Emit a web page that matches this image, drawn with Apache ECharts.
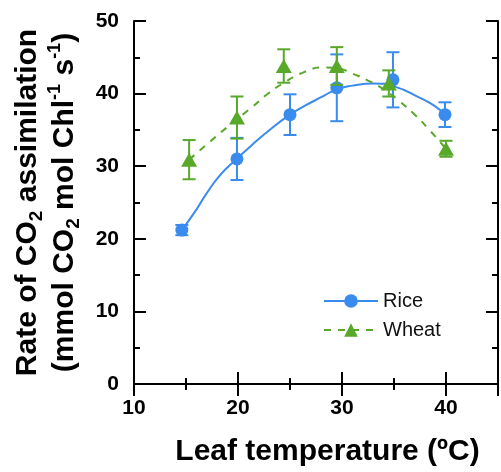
<!DOCTYPE html>
<html>
<head>
<meta charset="utf-8">
<script src="https://cdn.jsdelivr.net/npm/echarts@6/dist/echarts.min.js"></script>
<style>
html,body{margin:0;padding:0;background:#fff;}
#chart{width:501px;height:472px;}
</style>
</head>
<body>
<div id="chart"></div>
<script>
// ---- data ----
var xTicks = [10, 20, 30, 40];
var yTicks = [0, 10, 20, 30, 40, 50];

var riceX   = [14.6, 19.9, 25.0, 29.5, 34.9, 39.9];
var riceY   = [21.2, 31.0, 37.1, 40.8, 41.9, 37.1];
var riceErr = [0.7, 2.9, 2.8, 4.6, 3.8, 1.7];

var wheatX   = [15.3, 19.9, 24.4, 29.5, 34.5, 40.0];
var wheatY   = [30.9, 36.7, 43.8, 43.8, 41.4, 32.4];
var wheatErr = [2.7, 2.9, 2.3, 2.6, 1.8, 1.1];

// fitted curves
var riceFitX = [14.6, 15.8, 17.0, 18.3, 19.8, 21.4, 23.3, 24.9, 26.4, 28.0, 29.5, 31.0, 33.0, 35.0, 37.5, 38.9, 39.9];
var riceFitY = [21.2, 23.6, 26.3, 28.8, 30.9, 33.0, 35.3, 37.0, 38.3, 39.5, 40.6, 41.1, 41.4, 41.0, 39.4, 38.3, 37.1];

var wheatFitX = [15.3, 17.0, 18.9, 21.4, 22.8, 24.2, 26.4, 28.2, 29.5, 31.1, 32.5, 34.0, 35.4, 37.0, 38.4, 40.0];
var wheatFitY = [30.9, 33.0, 35.3, 38.2, 39.9, 41.3, 43.0, 43.6, 43.5, 42.7, 41.8, 40.6, 39.1, 37.1, 35.0, 32.4];

var RICE = '#3a8bee';
var WHEAT = '#58a82a';
var FONT = '"Liberation Sans", Arial, sans-serif';

function zip(a, b) { return a.map(function (v, i) { return [v, b[i]]; }); }
function errData(x, y, e) { return x.map(function (v, i) { return [v, y[i] - e[i], y[i] + e[i]]; }); }

function errRender(color) {
  return function (params, api) {
    var x = api.value(0);
    var lo = api.coord([x, api.value(1)]);
    var hi = api.coord([x, api.value(2)]);
    var hw = 6.5;
    var st = { stroke: color, lineWidth: 2 };
    return {
      type: 'group',
      children: [
        { type: 'line', shape: { x1: lo[0], y1: lo[1], x2: hi[0], y2: hi[1] }, style: st },
        { type: 'line', shape: { x1: lo[0] - hw, y1: lo[1], x2: lo[0] + hw, y2: lo[1] }, style: st },
        { type: 'line', shape: { x1: hi[0] - hw, y1: hi[1], x2: hi[0] + hw, y2: hi[1] }, style: st }
      ]
    };
  };
}

var chart = echarts.init(document.getElementById('chart'), null, { renderer: 'canvas' });

var axisLine = { show: true, lineStyle: { color: '#000', width: 2 } };
var tickStyle = { show: true, inside: true, length: 12, lineStyle: { color: '#000', width: 2 } };
var minorStyle = { show: true, splitNumber: 2, length: 6, lineStyle: { color: '#000', width: 2 } };

var option = {
  animation: false,
  backgroundColor: '#fff',
  grid: { left: 134, right: -4, top: 21, bottom: 80, containLabel: false },
  legend: {
    orient: 'vertical',
    left: 318,
    top: 286,
    itemWidth: 54,
    itemHeight: 17,
    itemGap: 9,
    textStyle: { fontFamily: FONT, fontSize: 20, color: '#111' },
    data: ['Rice', 'Wheat']
  },
  xAxis: [{
    type: 'value', min: 10, max: 45, interval: 10,
    axisLine: axisLine, axisTick: tickStyle, minorTick: minorStyle,
    splitLine: { show: false },
    axisLabel: {
      margin: 14, color: '#000', fontFamily: FONT, fontWeight: 'bold', fontSize: 21,
      formatter: function (v) { return xTicks.indexOf(v) >= 0 ? String(v) : ''; }
    },
    name: 'Leaf temperature (ºC)', nameLocation: 'middle', nameGap: 53,
    nameTextStyle: { fontFamily: FONT, fontWeight: 'bold', fontSize: 30, color: '#000', padding: [0, 0, 0, 23] }
  }, {
    type: 'value', position: 'top', min: 10, max: 45, interval: 10,
    axisLine: axisLine, axisTick: tickStyle, minorTick: minorStyle,
    splitLine: { show: false }, axisLabel: { show: false }
  }],
  yAxis: [{
    type: 'value', min: 0, max: 50, interval: 10,
    axisLine: axisLine, axisTick: tickStyle, minorTick: minorStyle,
    splitLine: { show: false },
    axisLabel: {
      margin: 15, color: '#000', fontFamily: FONT, fontWeight: 'bold', fontSize: 21,
      formatter: function (v) { return yTicks.indexOf(v) >= 0 ? String(v) : ''; }
    },
    name: 'Rate of CO{sub|2} assimilation\n(mmol CO{sub|2} mol Chl{sup|-1} s{sup|-1})',
    nameLocation: 'middle', nameGap: 51,
    nameTextStyle: {
      fontFamily: FONT, fontWeight: 'bold', fontSize: 30, color: '#000', lineHeight: 37,
      rich: {
        sub: { fontFamily: FONT, fontWeight: 'bold', fontSize: 19, verticalAlign: 'bottom', lineHeight: 37 },
        sup: { fontFamily: FONT, fontWeight: 'bold', fontSize: 18, verticalAlign: 'top', lineHeight: 37 }
      }
    }
  }, {
    type: 'value', position: 'right', min: 0, max: 50, interval: 10,
    axisLine: axisLine, axisTick: tickStyle, minorTick: minorStyle,
    splitLine: { show: false }, axisLabel: { show: false }
  }],
  series: [
    {
      name: 'Rice', type: 'line', data: zip(riceFitX, riceFitY), smooth: true,
      showSymbol: false, symbol: 'circle', symbolSize: 13,
      itemStyle: { color: RICE }, lineStyle: { color: RICE, width: 2 }, z: 2
    },
    {
      name: 'Rice', type: 'custom', data: errData(riceX, riceY, riceErr),
      renderItem: errRender(RICE), encode: { x: 0, y: [1, 2] }, z: 2
    },
    {
      name: 'Rice', type: 'scatter', data: zip(riceX, riceY), symbol: 'circle', symbolSize: 13,
      itemStyle: { color: RICE, opacity: 1 }, z: 3
    },
    {
      name: 'Wheat', type: 'line', data: zip(wheatFitX, wheatFitY), smooth: true,
      showSymbol: false, symbol: 'triangle', symbolSize: [16, 14],
      itemStyle: { color: WHEAT }, lineStyle: { color: WHEAT, width: 2, type: [7, 7] }, z: 4
    },
    {
      name: 'Wheat', type: 'custom', data: errData(wheatX, wheatY, wheatErr),
      renderItem: errRender(WHEAT), encode: { x: 0, y: [1, 2] }, z: 4
    },
    {
      name: 'Wheat', type: 'scatter', data: zip(wheatX, wheatY), symbol: 'triangle', symbolSize: [16, 14],
      itemStyle: { color: WHEAT, opacity: 1 }, z: 5
    }
  ]
};
chart.setOption(option);
</script>
</body>
</html>
